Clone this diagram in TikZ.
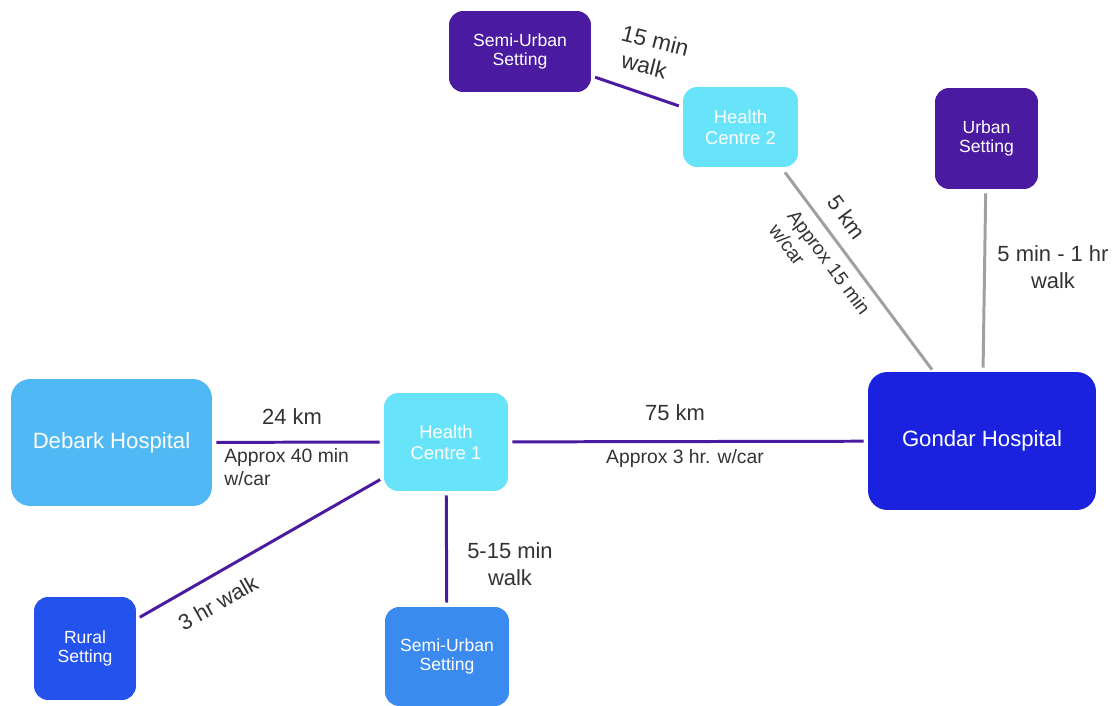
\documentclass[tikz,border=0pt]{standalone}
\usepackage{fontspec}
\setmainfont{Liberation Sans}
\usetikzlibrary{calc}
\definecolor{cPurple}{HTML}{4A1AA0}
\definecolor{cCyan}{HTML}{68E4FA}
\definecolor{cDebark}{HTML}{50B8F5}
\definecolor{cGondar}{HTML}{1A22E0}
\definecolor{cRural}{HTML}{2352EC}
\definecolor{cSemi}{HTML}{3A8AF0}
\definecolor{cLine}{HTML}{4A1AA0}
\definecolor{cGray}{HTML}{A0A0A0}
\definecolor{cText}{HTML}{333333}
\begin{document}
\begin{tikzpicture}[x=0.02cm,y=-0.02cm,
  box/.style={rounded corners=8pt, text=white, align=center, inner sep=0pt, draw=none,
    font=\fontsize{10}{10.3}\selectfont},
  hcbox/.style={box, fill=cCyan, font=\fontsize{10.5}{12}\selectfont},
  bigbox/.style={box, rounded corners=11pt, font=\fontsize{12.6}{15}\selectfont},
  pline/.style={draw=cLine, line width=1.7pt, shorten <=2.3pt, shorten >=2.3pt},
  gline/.style={draw=cGray, line width=1.7pt},
  lab/.style={text=cText, inner sep=0pt, font=\fontsize{11}{13.2}\selectfont},
  labbig/.style={text=cText, inner sep=0pt, font=\fontsize{12.5}{15}\selectfont},
]
\useasboundingbox (0,0) rectangle (1117,706);

% nodes
\node[box, fill=cPurple, minimum width=2.84cm, minimum height=1.62cm] (semi1) at (520,51.5) {Semi-Urban\\Setting};
\node[hcbox, minimum width=2.30cm, minimum height=1.60cm] (hc2) at (740.5,127) {Health\\Centre 2};
\node[box, fill=cPurple, minimum width=2.06cm, minimum height=2.02cm] (urban) at (986.5,138.5) {Urban\\Setting};
\node[bigbox, fill=cDebark, minimum width=4.02cm, minimum height=2.54cm] (debark) at (111.5,442.5) {Debark Hospital};
\node[hcbox, minimum width=2.48cm, minimum height=1.96cm] (hc1) at (446,442) {Health\\Centre 1};
\node[bigbox, fill=cGondar, minimum width=4.56cm, minimum height=2.76cm] (gondar) at (982,441) {Gondar Hospital};
\node[box, fill=cRural, minimum width=2.04cm, minimum height=2.06cm] (rural) at (85,648.5) {Rural\\Setting};
\node[box, fill=cSemi, minimum width=2.48cm, minimum height=1.98cm] (semi2) at (447,656.5) {Semi-Urban\\Setting};

% connectors
\draw[pline] (semi1) -- (hc2);
\draw[gline] ($(hc2.south)+(44.5,5)$) -- ($(gondar.north)+(-50,-2)$);
\draw[gline, shorten <=2.3pt, shorten >=2.3pt] (urban) -- (gondar);
\draw[pline] (debark) -- (hc1);
\draw[pline] (hc1) -- (gondar);
\draw[pline] (hc1) -- (rural);
\draw[pline] (hc1) -- (semi2);

% labels
\node[labbig, rotate=-14, align=left, font=\fontsize{13}{15.4}\selectfont] (l1) at (652,53.5) {15 min\\\hspace{3.9pt}walk};
\node[labbig, rotate=-53.4] (l2) at (847,217) {5 km};
\node[lab, rotate=-53.4, align=left] (l3) at (820,269) {Approx 15 min\\w/car};
\node[labbig, align=center] (l4) at (1053,267) {5 min - 1 hr\\walk};
\node[labbig] (l5) at (292,417) {24 km};
\node[lab, align=left, anchor=north west] (l6) at (224,448) {Approx 40 min\\w/car};
\node[labbig] (l7) at (675,413) {75 km};
\node[lab] (l8) at (685,459) {Approx 3 hr. w/car};
\node[labbig, align=center] (l9) at (510,564) {5-15 min\\walk};
\node[labbig, rotate=29.8] (l10) at (218,603) {3 hr walk};
\end{tikzpicture}
\end{document}
